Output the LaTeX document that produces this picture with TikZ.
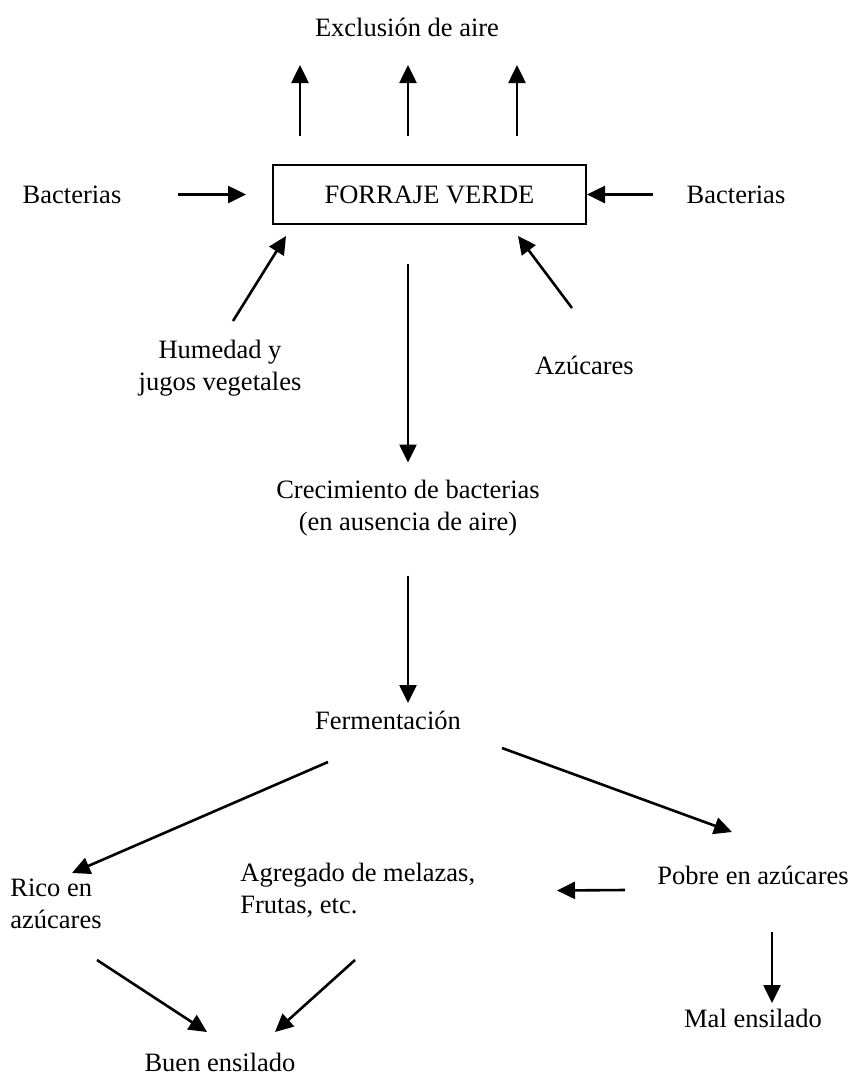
\documentclass[tikz,border=0pt]{standalone}
\usepackage{fontspec}
\setmainfont{Liberation Serif}
\usetikzlibrary{arrows.meta,calc}
\begin{document}
\begin{tikzpicture}[x=0.5pt,y=-0.5pt,
  texto/.style={inner sep=0pt,font=\fontsize{13.25}{16}\selectfont,align=center},
  flecha/.style={-{Triangle[length=9pt,width=8.5pt]},line width=1.3pt}]
\useasboundingbox (0,0) rectangle (857,1089);
% the box and the texts round it
\node[texto,draw,line width=1pt,minimum width=156.5pt,minimum height=29.5pt] (forraje) at (429.5,194.5) {FORRAJE VERDE};
\node[texto] (excl) at (407,27) {Exclusión de aire};
\node[texto] (bacl) at (72,194.5) {Bacterias};
\node[texto] (bacr) at (736,194.5) {Bacterias};
\node[texto] (humedad) at (220,368) {Humedad y\\jugos vegetales};
\node[texto] (azucares) at (584.5,365) {Azúcares};
% the chain below
\node[texto] (crec) at (408,508.5) {Crecimiento de bacterias\\(en ausencia de aire)};
\node[texto] (ferm) at (388,720) {Fermentación};
\node[texto,align=left,anchor=west] (rico) at (10,903.5) {Rico en\\azúcares};
\node[texto,align=left,anchor=west] (agregado) at (240,890.5) {Agregado de melazas,\\Frutas, etc.};
\node[texto] (pobre) at (753,875) {Pobre en azúcares};
\node[texto] (buen) at (220,1062) {Buen ensilado};
\node[texto] (mal) at (753,1018) {Mal ensilado};
% air going out
\foreach \dx in {-107,1,110}
  \draw[flecha] ($(excl.center |- forraje.north)+(\dx,-28)$) -- ($(excl)+(\dx,38)$);
% what goes into the box
\draw[flecha] ($(bacl)+(106,0)$) -- ($(forraje.west)+(-26,0)$);
\draw[flecha] ($(bacr)+(-83,0)$) -- (forraje.east);
\draw[flecha] ($(humedad)+(13,-47)$) -- ($(forraje.south west)+(14,11)$);
\draw[flecha] ($(azucares)+(-12.5,-57)$) -- ($(forraje.south east)+(-69,11)$);
% down to the silage
\draw[flecha] ($(crec |- forraje.south)+(0,39)$) -- ($(crec)+(0,-46)$);
\draw[flecha] ($(crec)+(0,67)$) -- ($(crec |- ferm)+(0,-17)$);
\draw[flecha] ($(ferm)+(-60,42)$) -- ($(rico.west)+(62,-30.5)$);
\draw[flecha] ($(ferm)+(114,28)$) -- ($(pobre)+(-21,-43)$);
\draw[flecha] ($(pobre)+(-128,15)$) -- ($(agregado.west)+(317,0)$);
\draw[flecha] ($(rico.west)+(87,56.5)$) -- ($(buen)+(-13,-30)$);
\draw[flecha] ($(agregado.west)+(115,69.5)$) -- ($(buen)+(55,-30)$);
\draw[flecha] ($(pobre)+(19,57)$) -- ($(mal)+(19,-15)$);
\end{tikzpicture}
\end{document}
